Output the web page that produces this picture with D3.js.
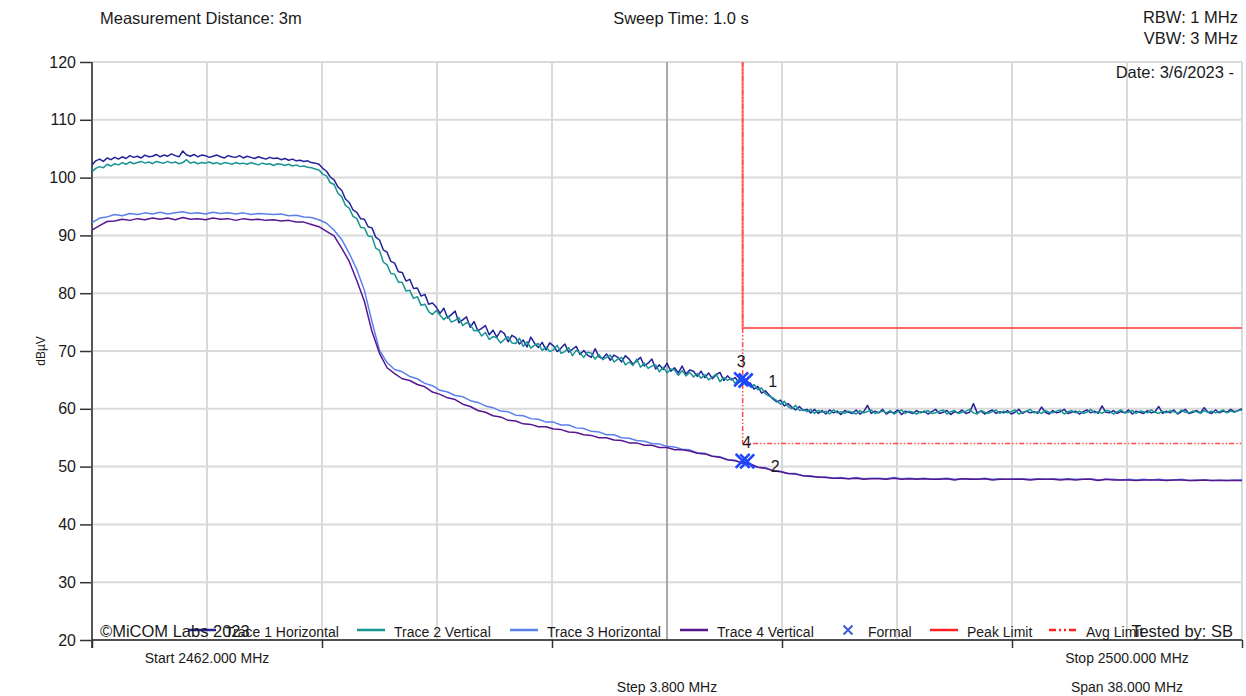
<!DOCTYPE html>
<html>
<head>
<meta charset="utf-8">
<script src="https://cdn.jsdelivr.net/npm/d3@7"></script>
<style>
  html, body { margin: 0; padding: 0; background: #ffffff; }
  svg { display: block; }
  text { font-family: "Liberation Sans", Arial, sans-serif; fill: #1a1a1a; }
</style>
</head>
<body>
<svg id="chart" width="1246" height="696"></svg>
<script>
// Sweep settings (MHz)
const sweepStart = 2462.0;
const sweepStop = 2500.0;
const sweepStep = 3.8;

// Level axis (dBµV)
const levelTicks = [20, 30, 40, 50, 60, 70, 80, 90, 100, 110, 120];

// Trace readings across the sweep (traces 1-2: 0.125 MHz points, traces 3-4: 0.25 MHz points)
const trace1Horizontal = [
102.2, 102.9, 103.2, 102.8, 103.4, 103.1, 103.5, 103.2, 103.6, 103.3,
103.8, 103.5, 103.7, 103.4, 103.9, 103.6, 103.7, 104.0, 103.6, 103.9,
103.7, 104.1, 103.8, 103.6, 104.6, 103.9, 103.7, 104.0, 103.6, 103.9,
103.8, 103.5, 103.7, 103.9, 103.6, 103.4, 103.8, 103.6, 103.5, 103.8,
103.4, 103.7, 103.5, 103.3, 103.6, 103.4, 103.2, 103.5, 103.3, 103.4,
103.1, 103.3, 103.0, 103.2, 102.9, 103.0, 102.8, 102.9, 102.6, 102.5,
102.3, 101.6, 101.1, 100.1, 99.6, 98.4, 97.8, 96.3, 95.7, 94.4,
94.0, 92.9, 92.8, 91.5, 91.3, 89.7, 89.2, 87.5, 87.1, 85.5,
85.2, 83.7, 83.6, 82.1, 82.4, 80.8, 80.9, 79.5, 79.8, 78.1,
78.3, 77.6, 76.5, 77.4, 75.7, 76.3, 76.9, 74.9, 75.4, 75.9,
74.1, 75.1, 73.5, 73.9, 74.4, 72.8, 73.6, 72.4, 73.5, 73.0,
71.6, 72.7, 72.3, 71.2, 71.9, 70.7, 72.4, 71.3, 70.6, 71.5,
70.2, 71.4, 70.9, 69.9, 70.5, 71.2, 69.8, 70.3, 70.8, 69.4,
70.1, 69.3, 68.9, 70.4, 69.0, 68.7, 69.5, 68.4, 69.3, 68.9,
68.1, 69.2, 68.6, 67.7, 68.3, 68.9, 67.4, 67.9, 68.6, 66.9,
67.6, 66.8, 67.9, 66.5, 67.1, 66.2, 67.4, 66.0, 66.7, 66.5,
65.6, 66.5, 65.4, 66.2, 65.2, 65.9, 66.3, 64.9, 65.7, 65.0,
65.4, 64.6, 65.0, 64.1, 64.5, 63.4, 63.9, 62.7, 63.1, 62.4,
61.7, 61.2, 61.5, 60.5, 60.9, 60.3, 59.8, 60.4, 59.7, 59.9,
59.3, 59.9, 59.2, 59.7, 59.1, 59.8, 59.3, 59.6, 59.0, 59.7,
59.4, 59.2, 59.8, 59.1, 59.5, 60.6, 59.2, 59.6, 59.3, 59.9,
59.1, 59.5, 59.3, 59.8, 59.0, 59.6, 59.4, 59.2, 59.7, 59.3,
59.6, 59.1, 59.5, 59.9, 59.2, 59.4, 59.7, 59.0, 59.5, 59.3,
59.8, 59.2, 59.4, 60.9, 59.3, 59.6, 59.1, 59.5, 59.8, 59.2,
59.5, 59.3, 59.7, 59.1, 59.4, 59.9, 59.2, 59.6, 59.3, 59.5,
59.2, 60.3, 59.4, 59.1, 59.7, 59.3, 59.5, 59.9, 59.2, 59.4,
59.6, 59.1, 59.5, 59.8, 59.3, 59.6, 59.2, 60.5, 59.4, 59.3,
59.7, 59.2, 59.5, 59.3, 59.8, 59.1, 59.6, 59.4, 59.2, 59.7,
59.3, 59.5, 60.4, 59.2, 59.6, 59.3, 59.8, 59.1, 59.5, 59.9,
59.2, 59.4, 59.7, 59.3, 60.2, 59.4, 59.2, 59.8, 59.3, 59.6,
59.4, 59.9, 59.5, 59.7, 60.0
];

const trace2Vertical = [
101.0, 101.6, 101.9, 101.7, 102.3, 102.0, 102.4, 102.2, 102.6, 102.3,
102.7, 102.4, 102.6, 102.8, 102.5, 102.7, 102.4, 102.8, 102.6, 102.5,
102.8, 102.5, 102.7, 102.4, 102.6, 103.1, 102.5, 102.7, 102.4, 102.6,
102.5, 102.7, 102.4, 102.6, 102.3, 102.6, 102.5, 102.3, 102.6, 102.4,
102.5, 102.3, 102.6, 102.4, 102.2, 102.5, 102.3, 102.4, 102.1, 102.4,
102.3, 102.1, 102.3, 102.0, 102.2, 101.9, 102.0, 101.8, 101.7, 101.5,
101.3, 100.6, 100.3, 99.1, 98.8, 97.3, 96.7, 95.2, 94.7, 93.3,
92.9, 91.4, 91.3, 89.9, 89.8, 87.8, 87.4, 85.4, 84.9, 83.4,
83.3, 81.9, 81.9, 80.4, 80.5, 79.1, 79.4, 77.9, 78.1, 76.8,
76.3, 77.0, 76.2, 75.4, 76.1, 75.0, 75.3, 75.8, 74.4, 74.9,
74.6, 73.5, 73.6, 72.6, 73.2, 72.0, 72.5, 72.3, 71.4, 72.0,
72.5, 71.4, 71.3, 72.2, 70.8, 71.6, 70.5, 71.0, 71.3, 70.1,
70.7, 69.9, 70.2, 71.0, 69.6, 69.9, 70.6, 69.2, 70.1, 69.7,
68.9, 69.8, 69.6, 68.6, 69.4, 68.5, 68.9, 69.3, 68.1, 68.6,
68.9, 67.6, 68.1, 67.5, 68.6, 67.2, 67.9, 67.0, 67.4, 67.6,
66.4, 67.2, 66.2, 66.9, 66.7, 65.8, 66.6, 65.7, 66.3, 65.5,
66.1, 65.3, 65.9, 65.0, 65.5, 66.0, 64.7, 65.4, 64.9, 65.3,
64.4, 65.1, 64.3, 64.6, 63.8, 64.2, 63.3, 63.6, 62.6, 62.2,
61.9, 61.4, 60.8, 61.3, 60.4, 60.0, 60.6, 59.7, 59.9, 59.5,
59.9, 59.2, 59.7, 59.4, 59.6, 59.1, 59.8, 59.3, 59.5, 59.2,
59.6, 59.4, 59.1, 59.7, 59.3, 59.5, 59.8, 59.2, 59.4, 59.6,
59.3, 59.7, 59.1, 59.5, 59.8, 59.2, 59.6, 59.4, 59.1, 59.5,
59.4, 59.7, 59.2, 59.3, 59.6, 59.8, 59.1, 59.5, 59.7, 59.2,
59.4, 59.6, 59.9, 59.3, 59.1, 59.7, 59.4, 59.2, 59.5, 59.8,
59.2, 59.6, 59.3, 59.5, 59.8, 59.1, 59.4, 59.6, 59.9, 59.3,
59.5, 59.2, 59.7, 59.4, 59.3, 59.6, 59.8, 59.1, 59.5, 59.7,
59.3, 59.6, 59.2, 59.4, 59.9, 59.3, 59.5, 59.2, 59.7, 59.6,
59.1, 59.5, 59.8, 59.3, 59.4, 59.7, 59.2, 59.6, 59.5, 59.3,
59.8, 59.4, 59.2, 59.6, 59.3, 59.7, 59.5, 59.2, 59.8, 59.4,
59.3, 59.6, 59.5, 59.2, 59.7, 59.4, 59.6, 59.3, 59.5, 59.8,
59.3, 59.6, 59.4, 59.7, 59.8
];

const trace3Horizontal = [
92.2, 93.0, 93.2, 93.6, 93.4, 93.8, 93.6, 93.9, 93.7, 94.0,
93.7, 93.9, 94.1, 93.8, 93.9, 93.7, 94.0, 93.8, 93.9, 93.7,
93.9, 93.6, 93.8, 93.7, 93.6, 93.7, 93.4, 93.5, 93.2, 93.1,
92.7, 92.1, 90.9, 89.3, 86.9, 84.1, 80.5, 75.1, 70.1, 68.0,
66.8, 66.4, 65.6, 65.2, 64.4, 64.0, 63.2, 62.9, 62.3, 62.1,
61.4, 61.1, 60.5, 60.2, 59.6, 59.5, 58.9, 58.8, 58.3, 58.2,
57.7, 57.7, 57.2, 57.2, 56.7, 56.6, 56.1, 56.0, 55.5, 55.5,
55.0, 54.9, 54.5, 54.4, 54.0, 53.9, 53.5, 53.4, 53.0, 52.9,
52.4, 52.3, 51.8, 51.7, 51.2, 51.1, 50.6, 50.5, 49.9, 49.8,
49.3, 49.2, 48.8, 48.8, 48.4, 48.4, 48.1, 48.2, 48.0, 48.1,
47.9, 48.1, 47.9, 48.0, 48.0, 47.9, 48.1, 47.9, 48.0, 47.9,
48.0, 47.8, 47.9, 48.0, 47.8, 47.9, 47.9, 47.8, 48.0, 47.8,
47.9, 47.8, 47.9, 47.9, 47.8, 47.9, 47.8, 47.9, 47.8, 47.9,
47.8, 47.8, 47.9, 47.7, 47.8, 47.8, 47.7, 47.8, 47.7, 47.8,
47.7, 47.8, 47.7, 47.7, 47.8, 47.6, 47.7, 47.7, 47.6, 47.7,
47.6, 47.7, 47.7
];

const trace4Vertical = [
90.9, 91.7, 92.4, 92.5, 92.8, 92.6, 92.9, 92.7, 93.0, 92.8,
93.0, 92.7, 93.1, 92.8, 92.9, 92.7, 93.0, 92.8, 92.9, 92.6,
92.9, 92.7, 92.8, 92.6, 92.7, 92.5, 92.6, 92.3, 92.3, 91.9,
91.5, 90.7, 89.9, 87.8, 85.5, 82.2, 78.6, 73.4, 69.6, 67.1,
66.1, 65.2, 64.9, 64.2, 63.8, 62.9, 62.5, 61.9, 61.6, 60.8,
60.4, 59.7, 59.4, 58.8, 58.6, 58.0, 57.9, 57.4, 57.3, 56.9,
56.9, 56.5, 56.4, 56.0, 55.9, 55.5, 55.4, 55.0, 55.0, 54.6,
54.5, 54.1, 54.1, 53.7, 53.7, 53.3, 53.3, 52.9, 52.9, 52.7,
52.3, 52.2, 51.8, 51.6, 51.2, 51.0, 50.6, 50.4, 49.9, 49.7,
49.3, 49.1, 48.8, 48.7, 48.4, 48.3, 48.2, 48.1, 48.0, 48.0,
47.9, 48.0, 47.8, 47.9, 47.9, 47.8, 48.0, 47.8, 47.9, 47.8,
47.9, 47.8, 47.8, 47.9, 47.7, 47.9, 47.8, 47.8, 47.9, 47.7,
47.8, 47.8, 47.8, 47.8, 47.7, 47.8, 47.8, 47.8, 47.7, 47.8,
47.7, 47.8, 47.8, 47.6, 47.8, 47.7, 47.7, 47.7, 47.6, 47.7,
47.7, 47.7, 47.6, 47.7, 47.7, 47.6, 47.6, 47.7, 47.6, 47.6,
47.6, 47.6, 47.6
];

// Limit lines: [frequency MHz, level dBµV]
const peakLimit = [[2483.5, 120], [2483.5, 74], [2500, 74]];
const avgLimit = [[2483.5, 120], [2483.5, 54], [2500, 54]];

// Formal markers
const markerLabels = ["3", "1", "4", "2"];
const markerFreqs = [2483.45, 2483.6, 2483.5, 2483.65];
const markerLevels = [65.1, 64.9, 51.0, 50.9];

const traceNames = ["Trace 1 Horizontal", "Trace 2 Vertical", "Trace 3 Horizontal", "Trace 4 Vertical"];
const traceColors = ["#23229b", "#179592", "#5b80ee", "#561690"];
const traceSeries = [trace1Horizontal, trace2Vertical, trace3Horizontal, trace4Vertical];

// ---- drawing ----
const svg = d3.select("#chart");
const plot = { left: 92, right: 1242, top: 62, bottom: 640 };

const x = d3.scaleLinear().domain([sweepStart, sweepStop]).range([plot.left, plot.right]);
const y = d3.scaleLinear().domain([20, 120]).range([plot.bottom, plot.top]);

const stepCount = Math.round((sweepStop - sweepStart) / sweepStep);
const gridFreqs = d3.range(stepCount + 1).map(k => sweepStart + k * sweepStep);

svg.append("defs").append("clipPath").attr("id", "plotClip")
  .append("rect")
  .attr("x", plot.left).attr("y", plot.top - 1)
  .attr("width", plot.right - plot.left + 2).attr("height", plot.bottom - plot.top + 1);

// Grid
const grid = svg.append("g");
grid.selectAll("line.h").data(levelTicks).join("line")
  .attr("x1", plot.left).attr("x2", plot.right)
  .attr("y1", d => y(d)).attr("y2", d => y(d))
  .attr("stroke", "#dadada").attr("stroke-width", 2);
grid.selectAll("line.v").data(gridFreqs.slice(1)).join("line")
  .attr("x1", d => x(d)).attr("x2", d => x(d))
  .attr("y1", plot.top).attr("y2", plot.bottom)
  .attr("stroke", (d, i) => i === 4 ? "#a9a9a9" : "#dadada")
  .attr("stroke-width", 2);

// Left axis
const yAxis = d3.axisLeft(y).tickValues(levelTicks).tickSize(12).tickPadding(4);
const gy = svg.append("g").attr("transform", `translate(${plot.left},0)`).call(yAxis);
gy.select(".domain").remove();
gy.selectAll(".tick line").attr("stroke", "#333").attr("stroke-width", 1.5);
gy.selectAll(".tick text")
  .style("font-family", "'Liberation Sans', Arial, sans-serif")
  .style("font-size", "16px").attr("fill", "#1a1a1a");
svg.append("line")
  .attr("x1", plot.left).attr("x2", plot.left)
  .attr("y1", plot.top).attr("y2", plot.bottom + 8)
  .attr("stroke", "#555").attr("stroke-width", 2);

// Bottom axis
const xAxis = d3.axisBottom(x).tickValues(gridFreqs.filter((d, i) => i % 2 === 0))
  .tickSize(8).tickFormat("");
const gx = svg.append("g").attr("transform", `translate(0,${plot.bottom})`).call(xAxis);
gx.select(".domain").remove();
gx.selectAll(".tick line").attr("stroke", "#333").attr("stroke-width", 1.5);
svg.append("line")
  .attr("x1", plot.left).attr("x2", plot.right)
  .attr("y1", plot.bottom).attr("y2", plot.bottom)
  .attr("stroke", "#222").attr("stroke-width", 1.5);

// Traces
const traces = svg.append("g").attr("clip-path", "url(#plotClip)");
traceSeries.forEach((series, k) => {
  const pointStep = (sweepStop - sweepStart) / (series.length - 1);
  const line = d3.line()
    .x((d, i) => x(sweepStart + i * pointStep))
    .y(d => y(d));
  traces.append("path")
    .datum(series)
    .attr("d", line)
    .attr("fill", "none")
    .attr("stroke", traceColors[k])
    .attr("stroke-width", 1.5)
    .attr("stroke-linejoin", "round");
});

// Limits
const limitLine = d3.line().x(d => x(d[0])).y(d => y(d[1]));
svg.append("path").datum(avgLimit).attr("d", limitLine)
  .attr("fill", "none").attr("stroke", "#ff2a2a").attr("stroke-width", 1.5)
  .attr("stroke-dasharray", "5,2,1.5,2,1.5,2").attr("opacity", 0.85);
svg.append("path").datum(peakLimit).attr("d", limitLine)
  .attr("fill", "none").attr("stroke", "#ff4d4d").attr("stroke-width", 2).attr("opacity", 0.85);

// Markers
const markerColor = "#1f45ff";
const labelOffsets = { "3": [0, -17], "1": [27, 2], "4": [4, -17], "2": [28, 6] };
const markerG = svg.append("g");
markerLabels.forEach((lab, i) => {
  const cx = x(markerFreqs[i]), cy = y(markerLevels[i]);
  const s = 7;
  markerG.append("path")
    .attr("d", `M${cx - s},${cy - s}L${cx + s},${cy + s}M${cx - s},${cy + s}L${cx + s},${cy - s}`)
    .attr("stroke", markerColor).attr("stroke-width", 2.6).attr("fill", "none");
  markerG.append("text")
    .attr("x", cx + labelOffsets[lab][0]).attr("y", cy + labelOffsets[lab][1])
    .attr("text-anchor", "middle").attr("dominant-baseline", "middle")
    .style("font-size", "16px").text(lab);
});

// Header texts
svg.append("text").attr("x", 100).attr("y", 24).style("font-size", "16.5px").text("Measurement Distance: 3m");
svg.append("text").attr("x", 681).attr("y", 24).attr("text-anchor", "middle").style("font-size", "16.5px").text("Sweep Time: 1.0 s");
svg.append("text").attr("x", 1238).attr("y", 23).attr("text-anchor", "end").style("font-size", "16.5px").text("RBW: 1 MHz");
svg.append("text").attr("x", 1238).attr("y", 44).attr("text-anchor", "end").style("font-size", "16.5px").text("VBW: 3 MHz");
svg.append("text").attr("x", 1234).attr("y", 78).attr("text-anchor", "end").style("font-size", "16.5px").text("Date: 3/6/2023 -");

// Axis title
svg.append("text")
  .attr("transform", `translate(45,${(plot.top + plot.bottom) / 2}) rotate(-90)`)
  .attr("text-anchor", "middle").style("font-size", "12px").text("dBµV");

// Sweep labels
const fmt = d3.format(".3f");
svg.append("text").attr("x", x(sweepStart + sweepStep)).attr("y", 663).attr("text-anchor", "middle")
  .style("font-size", "14px").text(`Start ${fmt(sweepStart)} MHz`);
svg.append("text").attr("x", x(sweepStart + 5 * sweepStep)).attr("y", 692).attr("text-anchor", "middle")
  .style("font-size", "14px").text(`Step ${fmt(sweepStep)} MHz`);
svg.append("text").attr("x", x(sweepStop - sweepStep)).attr("y", 663).attr("text-anchor", "middle")
  .style("font-size", "14px").text(`Stop ${fmt(sweepStop)} MHz`);
svg.append("text").attr("x", x(sweepStop - sweepStep)).attr("y", 692).attr("text-anchor", "middle")
  .style("font-size", "14px").text(`Span ${fmt(sweepStop - sweepStart)} MHz`);

// Legend
const legendY = 630;
const legendItems = [
  { name: traceNames[0], color: traceColors[0], kind: "line", at: 188 },
  { name: traceNames[1], color: traceColors[1], kind: "line", at: 357 },
  { name: traceNames[2], color: traceColors[2], kind: "line", at: 510 },
  { name: traceNames[3], color: traceColors[3], kind: "line", at: 680 },
  { name: "Formal", color: "#3b5bdb", kind: "cross", at: 843 },
  { name: "Peak Limit", color: "#ff2020", kind: "line", at: 930 },
  { name: "Avg Limit", color: "#ff2020", kind: "dash", at: 1049 }
];
const lg = svg.append("g");
svg.append("text").attr("x", 100).attr("y", 637).style("font-size", "16.5px").text("©MiCOM Labs 2023");
legendItems.forEach(it => {
  if (it.kind === "cross") {
    const cx = it.at + 5, cy = legendY, s = 4.5;
    lg.append("path")
      .attr("d", `M${cx - s},${cy - s}L${cx + s},${cy + s}M${cx - s},${cy + s}L${cx + s},${cy - s}`)
      .attr("stroke", it.color).attr("stroke-width", 2).attr("fill", "none");
  } else {
    lg.append("line")
      .attr("x1", it.at).attr("x2", it.at + 28)
      .attr("y1", legendY).attr("y2", legendY)
      .attr("stroke", it.color).attr("stroke-width", 2.5)
      .attr("stroke-dasharray", it.kind === "dash" ? "7,3,2,3,2,3" : null);
  }
  lg.append("text").attr("x", it.kind === "cross" ? it.at + 25 : it.at + 37).attr("y", 637)
    .style("font-size", "14px").text(it.name);
});
svg.append("text").attr("x", 1233).attr("y", 637).attr("text-anchor", "end").style("font-size", "16.5px").text("Tested by: SB");
</script>
</body>
</html>
